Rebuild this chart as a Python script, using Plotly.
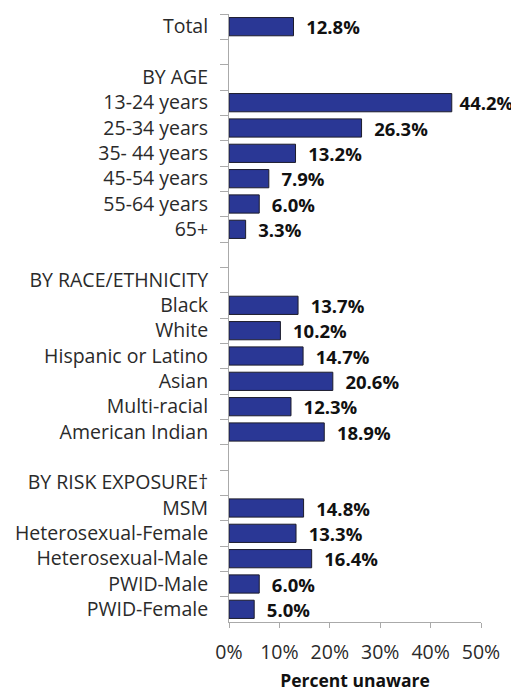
import plotly.graph_objects as go

categories = ["Total", " ", "BY AGE", "13-24 years", "25-34 years", "35- 44 years", "45-54 years",
              "55-64 years", "65+", "  ", "BY RACE/ETHNICITY", "Black", "White", "Hispanic or Latino",
              "Asian", "Multi-racial", "American Indian", "   ", "BY RISK EXPOSURE\u2020", "MSM",
              "Heterosexual-Female", "Heterosexual-Male", "PWID-Male", "PWID-Female"]
values = [12.8, None, None, 44.2, 26.3, 13.2, 7.9, 6.0, 3.3, None, None, 13.7, 10.2, 14.7,
          20.6, 12.3, 18.9, None, None, 14.8, 13.3, 16.4, 6.0, 5.0]
tick_vals = [0, 10, 20, 30, 40, 50]
tick_text = ["0%", "10%", "20%", "30%", "40%", "50%"]

# labels near the right edge sit a little closer to their bar (as in the original)
labels = []
for v in values:
    if v is None:
        labels.append("")
    elif v > 40:
        labels.append(" %.1f%%" % v)
    else:
        labels.append("  %.1f%%" % v)

FONT = "Open Sans"

fig = go.Figure(go.Bar(
    y=categories, x=values, orientation="h",
    marker=dict(color="#2a3795", line=dict(color="#1c1c2c", width=1)),
    width=0.72,
    text=labels, textposition="outside", cliponaxis=False, constraintext="none",
    textfont=dict(family=FONT, size=18.5, color="#111111", weight="bold"),
))

fig.update_layout(
    width=511, height=684,
    margin=dict(l=221, r=38, t=6, b=70, autoexpand=False),
    plot_bgcolor="white", paper_bgcolor="white",
    showlegend=False,
    font=dict(family=FONT, size=19.5, color="#2a2a2a"),
    xaxis=dict(range=[0, 50], tickvals=tick_vals, ticktext=tick_text, showgrid=False,
               showline=True, linecolor="#aaaaaa", linewidth=1, ticks="outside",
               tickcolor="#aaaaaa", ticklen=5, zeroline=False, automargin=False,
               ticklabelstandoff=8,
               tickfont=dict(family=FONT, size=19.5, color="#2a2a2a"),
               title=dict(text="<b>Percent unaware</b>", font=dict(family=FONT, size=17.5, color="#111111"), standoff=12)),
    yaxis=dict(categoryorder="array", categoryarray=categories, autorange="reversed",
               type="category", showline=True, linecolor="#aaaaaa", linewidth=1,
               ticks="outside", tickson="boundaries", tickcolor="#aaaaaa", ticklen=8,
               showgrid=False, ticklabelstandoff=16, automargin=False,
               tickfont=dict(family=FONT, size=19.5, color="#2a2a2a")),
)

fig.write_html("out.html")
